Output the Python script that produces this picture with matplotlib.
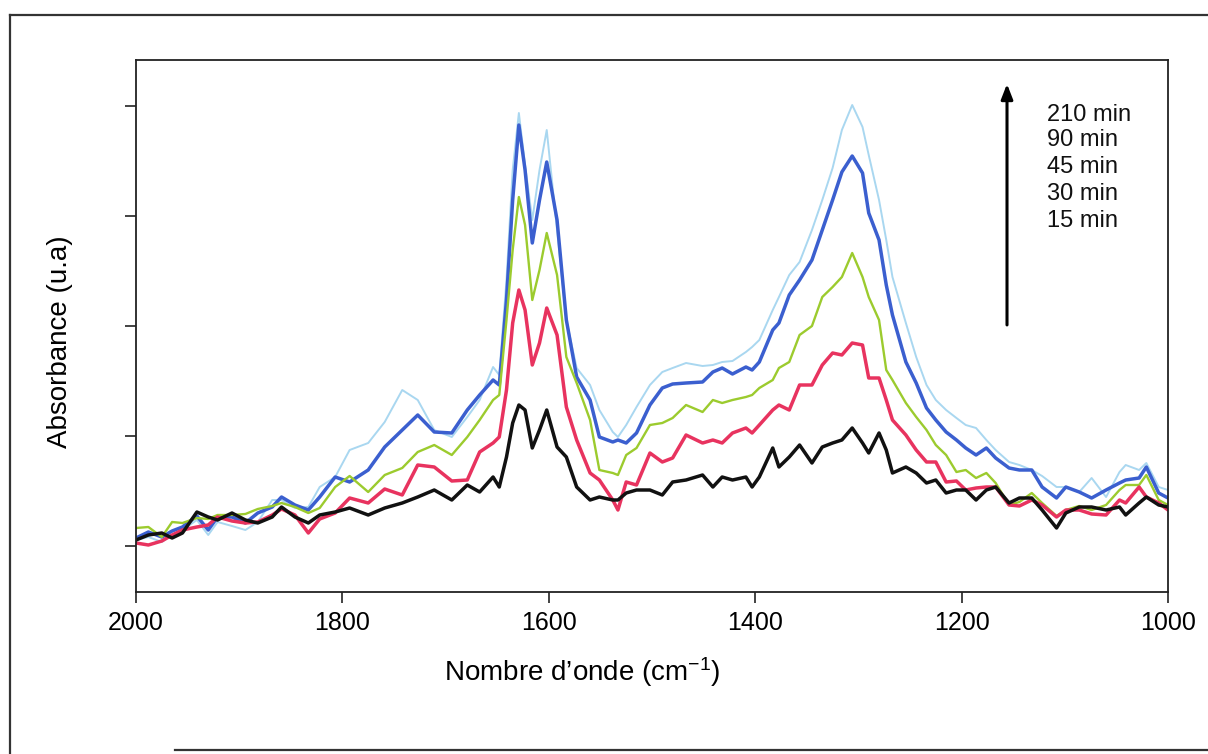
import matplotlib
matplotlib.use("Agg")
import matplotlib.pyplot as plt
from matplotlib.lines import Line2D

plt.rcParams['font.family'] = ['Liberation Sans', 'DejaVu Sans']
plt.rcParams['mathtext.fontset'] = 'custom'
plt.rcParams['mathtext.rm'] = 'Liberation Sans'
plt.rcParams['mathtext.default'] = 'regular'

# ---------------- data ----------------
wavenumber = [2000, 1988, 1975, 1965, 1955, 1941, 1930, 1921, 1907, 1894,
              1882, 1868, 1859, 1846, 1833, 1822, 1807, 1793, 1775, 1759,
              1742, 1727, 1711, 1694, 1679, 1667, 1654, 1648, 1641, 1635,
              1629, 1623, 1616, 1609, 1602, 1592, 1583, 1573, 1560, 1551,
              1538, 1533, 1525, 1515, 1502, 1490, 1480, 1467, 1451, 1441,
              1432, 1422, 1409, 1403, 1396, 1383, 1377, 1367, 1357, 1345,
              1335, 1325, 1316, 1306, 1296, 1290, 1280, 1273, 1267, 1254,
              1244, 1234, 1225, 1215, 1205, 1196, 1186, 1176, 1167, 1154,
              1144, 1132, 1122, 1108, 1099, 1086, 1074, 1060, 1047, 1041,
              1028, 1021, 1009, 1000]

abs_15min = [.006, .011, .013, .008, .013, .034, .029, .026, .033, .026,
             .023, .029, .039, .029, .023, .031, .034, .038, .031, .038,
             .043, .049, .056, .046, .061, .054, .069, .059, .089, .123,
             .141, .136, .098, .116, .136, .099, .089, .059, .046, .049,
             .046, .046, .053, .056, .056, .051, .064, .066, .071, .059,
             .069, .066, .069, .059, .069, .098, .079, .089, .101, .083,
             .099, .103, .106, .118, .103, .093, .113, .096, .073, .079,
             .073, .063, .066, .053, .056, .056, .046, .056, .059, .043,
             .048, .048, .036, .018, .033, .039, .039, .036, .039, .031,
             .043, .049, .041, .039]

abs_30min = [.003, .001, .005, .011, .016, .019, .021, .029, .025, .023,
             .024, .031, .037, .031, .013, .027, .033, .048, .043, .057,
             .051, .081, .079, .065, .066, .094, .103, .109, .156, .223,
             .256, .236, .181, .203, .238, .211, .139, .106, .073, .066,
             .046, .036, .064, .061, .093, .084, .088, .111, .103, .106,
             .103, .113, .118, .113, .121, .136, .141, .136, .161, .161,
             .181, .193, .191, .203, .201, .168, .168, .146, .126, .111,
             .096, .084, .084, .064, .065, .056, .058, .059, .059, .041,
             .040, .046, .041, .029, .036, .036, .032, .031, .046, .043,
             .059, .049, .043, .036]

abs_45min = [.018, .019, .009, .024, .023, .028, .027, .031, .031, .032,
             .037, .040, .043, .039, .033, .038, .059, .070, .054, .071,
             .078, .094, .101, .091, .109, .126, .146, .151, .226, .296,
             .349, .321, .246, .276, .313, .271, .189, .163, .126, .076,
             .073, .071, .091, .098, .121, .123, .128, .141, .134, .146,
             .143, .146, .149, .151, .158, .166, .178, .184, .211, .220,
             .249, .259, .269, .293, .269, .249, .226, .176, .166, .143,
             .129, .116, .101, .091, .074, .076, .068, .073, .063, .041,
             .044, .053, .043, .030, .036, .040, .036, .041, .056, .061,
             .061, .071, .046, .041]

abs_90min = [.008, .014, .009, .015, .019, .030, .016, .029, .029, .023,
             .033, .039, .049, .041, .036, .049, .069, .064, .076, .099,
             .116, .131, .114, .113, .136, .151, .166, .161, .246, .346,
             .421, .376, .303, .346, .384, .326, .226, .169, .146, .109,
             .104, .106, .103, .113, .141, .158, .162, .163, .164, .174,
             .178, .172, .179, .176, .184, .216, .223, .251, .266, .286,
             .316, .346, .374, .390, .373, .333, .306, .261, .231, .184,
             .163, .138, .126, .114, .106, .098, .091, .098, .088, .078,
             .076, .076, .059, .048, .059, .054, .048, .056, .063, .066,
             .068, .079, .053, .048]

abs_210min = [.006, .009, .004, .011, .016, .026, .011, .024, .020, .016,
              .024, .046, .046, .038, .039, .059, .069, .096, .103, .124,
              .156, .146, .116, .109, .129, .146, .179, .171, .266, .376,
              .433, .381, .326, .376, .416, .316, .226, .178, .161, .136,
              .114, .109, .121, .139, .161, .174, .178, .183, .180, .181,
              .184, .185, .194, .199, .206, .236, .249, .271, .284, .316,
              .346, .378, .416, .441, .419, .391, .346, .306, .269, .223,
              .189, .161, .146, .136, .128, .121, .118, .106, .096, .084,
              .081, .076, .070, .059, .059, .054, .068, .049, .074, .081,
              .076, .083, .059, .056]

legend_labels = ["210 min", "90 min", "45 min", "30 min", "15 min"]
x_ticks = [2000, 1800, 1600, 1400, 1200, 1000]
y_ticks = [0.0, 0.11, 0.22, 0.33, 0.44]

# ---------------- figure ----------------
fig = plt.figure(figsize=(12.08, 7.54), dpi=100)
ax = fig.add_axes([136/1208, 1-592/754, (1168-136)/1208, (592-60)/754])

series = [
    (abs_210min, '#a9d7f0', 1.4),
    (abs_90min, '#3b5fcf', 2.5),
    (abs_45min, '#9ccb2e', 1.7),
    (abs_30min, '#e8335f', 2.5),
    (abs_15min, '#111111', 2.5),
]
for vals, col, lw in series:
    ax.plot(wavenumber, vals, color=col, lw=lw, solid_joinstyle='round',
            solid_capstyle='round')

ax.set_xlim(2000, 1000)
ax.set_ylim(-0.046, 0.486)
ax.set_xticks(x_ticks)
ax.set_xticklabels([str(t) for t in x_ticks], fontsize=18)
ax.set_yticks(y_ticks)
ax.set_yticklabels([])
ax.tick_params(axis='both', direction='out', length=8, width=1.2, color='#222222')
ax.tick_params(axis='x', pad=6)
for sp in ax.spines.values():
    sp.set_linewidth(1.3)
    sp.set_color('#222222')

# legend as text column with arrow
ys = [0.8966, 0.8496, 0.799, 0.748, 0.697]
for lab, yy in zip(legend_labels, ys):
    ax.text(0.883, yy, lab, transform=ax.transAxes, fontsize=17,
            ha='left', va='center', color='#111111')
ax.annotate('', xy=(0.844, 0.955), xytext=(0.844, 0.502),
            xycoords='axes fraction', textcoords='axes fraction',
            arrowprops=dict(arrowstyle='-|>,head_width=0.35,head_length=0.9',
                            lw=2.2, color='#000000', shrinkA=0, shrinkB=0))

fig.text(582/1208, 1-672/754, "Nombre d\u2019onde (cm$^{-1}$)", fontsize=20,
         ha='center', va='center')
fig.text(60/1208, 1-342/754, "Absorbance (u.a)", fontsize=20, rotation=90,
         ha='center', va='center')

# outer frame
fc = '#333333'
fig.add_artist(Line2D([10/1208, 1.0], [1-15/754, 1-15/754], transform=fig.transFigure, color=fc, lw=1.6))
fig.add_artist(Line2D([10/1208, 10/1208], [1-15/754, 0.0], transform=fig.transFigure, color=fc, lw=1.6))
fig.add_artist(Line2D([175/1208, 1.0], [1-750/754, 1-750/754], transform=fig.transFigure, color=fc, lw=1.6))

fig.savefig("out.png", dpi=100)
